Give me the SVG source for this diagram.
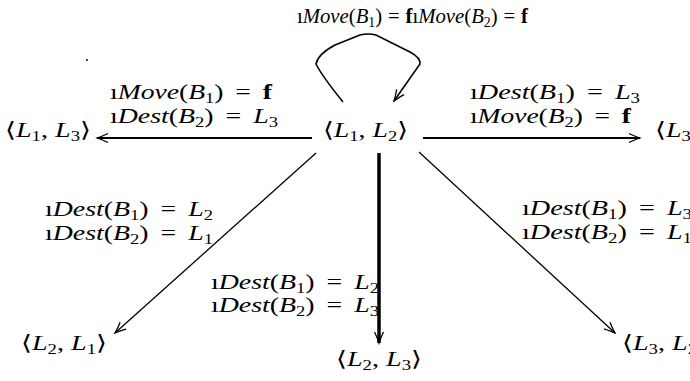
<svg xmlns="http://www.w3.org/2000/svg" width="690" height="381" viewBox="0 0 690 381">
<defs>
<style>
.t{font-family:"Liberation Serif","DejaVu Serif",serif;font-size:21px;fill:#000}
.i{font-style:italic}
.s{font-size:14px}
.b{font-weight:bold}
.e{fill:none;stroke:#000}
</style>
<marker id="ah" viewBox="-12 -6 14 12" refX="0" refY="0" markerWidth="14" markerHeight="12" markerUnits="userSpaceOnUse" orient="auto">
<path d="M-11,-4.5 Q-4,-1.2 0,0 Q-4,1.2 -11,4.5" fill="none" stroke="#000" stroke-width="1.3"/>
</marker>
</defs>
<rect width="690" height="381" fill="#fff"/>
<circle cx="87" cy="60" r="1" fill="#000"/>
<g id="edges">
<path class="e" d="M343,102 Q322,76 316,64 Q318,54 335,45 L360,35 Q368,33 376,35 L410,52 Q421,58 420,64 L394,101" stroke-width="1.6" marker-end="url(#ah)"/>
<path class="e" d="M312,138 L97,138" stroke-width="2" marker-end="url(#ah)"/>
<path class="e" d="M423,138 L640,138" stroke-width="2" marker-end="url(#ah)"/>
<path class="e" d="M379,153 L379,343" stroke-width="3.5" marker-end="url(#ah)"/>
<path class="e" d="M316,153 L115,333" stroke-width="1.3" marker-end="url(#ah)"/>
<path class="e" d="M419,152 L615,333" stroke-width="1.3" marker-end="url(#ah)"/>
</g>
<g id="edge-labels">
<text class="t" x="297" y="23" textLength="231" lengthAdjust="spacingAndGlyphs">ı<tspan class="i">Move</tspan>(<tspan class="i">B</tspan><tspan class="s" dy="4">1</tspan><tspan dy="-4">)</tspan><tspan dx="6">=</tspan><tspan dx="6" class="b">f</tspan>ı<tspan class="i">Move</tspan>(<tspan class="i">B</tspan><tspan class="s" dy="4">2</tspan><tspan dy="-4">)</tspan><tspan dx="6">=</tspan><tspan dx="6" class="b">f</tspan></text>
<text class="t" x="110" y="99" textLength="162" lengthAdjust="spacingAndGlyphs">ı<tspan class="i">Move</tspan>(<tspan class="i">B</tspan><tspan class="s" dy="4">1</tspan><tspan dy="-4">)</tspan><tspan dx="9">=</tspan><tspan dx="9" class="b">f</tspan></text>
<text class="t" x="110" y="123" textLength="168" lengthAdjust="spacingAndGlyphs">ı<tspan class="i">Dest</tspan>(<tspan class="i">B</tspan><tspan class="s" dy="4">2</tspan><tspan dy="-4">)</tspan><tspan dx="9">=</tspan><tspan dx="9" class="i">L</tspan><tspan class="s" dy="4">3</tspan></text>
<text class="t" x="470" y="99" textLength="170" lengthAdjust="spacingAndGlyphs">ı<tspan class="i">Dest</tspan>(<tspan class="i">B</tspan><tspan class="s" dy="4">1</tspan><tspan dy="-4">)</tspan><tspan dx="9">=</tspan><tspan dx="9" class="i">L</tspan><tspan class="s" dy="4">3</tspan></text>
<text class="t" x="470" y="123" textLength="161" lengthAdjust="spacingAndGlyphs">ı<tspan class="i">Move</tspan>(<tspan class="i">B</tspan><tspan class="s" dy="4">2</tspan><tspan dy="-4">)</tspan><tspan dx="9">=</tspan><tspan dx="9" class="b">f</tspan></text>
<text class="t" x="45" y="216" textLength="168" lengthAdjust="spacingAndGlyphs">ı<tspan class="i">Dest</tspan>(<tspan class="i">B</tspan><tspan class="s" dy="4">1</tspan><tspan dy="-4">)</tspan><tspan dx="9">=</tspan><tspan dx="9" class="i">L</tspan><tspan class="s" dy="4">2</tspan></text>
<text class="t" x="45" y="240" textLength="168" lengthAdjust="spacingAndGlyphs">ı<tspan class="i">Dest</tspan>(<tspan class="i">B</tspan><tspan class="s" dy="4">2</tspan><tspan dy="-4">)</tspan><tspan dx="9">=</tspan><tspan dx="9" class="i">L</tspan><tspan class="s" dy="4">1</tspan></text>
<text class="t" x="211" y="289" textLength="168" lengthAdjust="spacingAndGlyphs">ı<tspan class="i">Dest</tspan>(<tspan class="i">B</tspan><tspan class="s" dy="4">1</tspan><tspan dy="-4">)</tspan><tspan dx="9">=</tspan><tspan dx="9" class="i">L</tspan><tspan class="s" dy="4">2</tspan></text>
<text class="t" x="211" y="312" textLength="168" lengthAdjust="spacingAndGlyphs">ı<tspan class="i">Dest</tspan>(<tspan class="i">B</tspan><tspan class="s" dy="4">2</tspan><tspan dy="-4">)</tspan><tspan dx="9">=</tspan><tspan dx="9" class="i">L</tspan><tspan class="s" dy="4">3</tspan></text>
<text class="t" x="522" y="215" textLength="170" lengthAdjust="spacingAndGlyphs">ı<tspan class="i">Dest</tspan>(<tspan class="i">B</tspan><tspan class="s" dy="4">1</tspan><tspan dy="-4">)</tspan><tspan dx="9">=</tspan><tspan dx="9" class="i">L</tspan><tspan class="s" dy="4">3</tspan></text>
<text class="t" x="522" y="239" textLength="170" lengthAdjust="spacingAndGlyphs">ı<tspan class="i">Dest</tspan>(<tspan class="i">B</tspan><tspan class="s" dy="4">2</tspan><tspan dy="-4">)</tspan><tspan dx="9">=</tspan><tspan dx="9" class="i">L</tspan><tspan class="s" dy="4">1</tspan></text>
</g>
<g id="n-L1L2"><text class="t" x="323" y="137" textLength="85" lengthAdjust="spacingAndGlyphs">⟨<tspan class="i">L</tspan><tspan class="s" dy="4">1</tspan><tspan dy="-4">, </tspan><tspan class="i">L</tspan><tspan class="s" dy="4">2</tspan><tspan dy="-4">⟩</tspan></text></g>
<g id="n-L1L3"><text class="t" x="5" y="137" textLength="86" lengthAdjust="spacingAndGlyphs">⟨<tspan class="i">L</tspan><tspan class="s" dy="4">1</tspan><tspan dy="-4">, </tspan><tspan class="i">L</tspan><tspan class="s" dy="4">3</tspan><tspan dy="-4">⟩</tspan></text></g>
<g id="n-L3L1"><text class="t" x="655" y="137" textLength="86" lengthAdjust="spacingAndGlyphs">⟨<tspan class="i">L</tspan><tspan class="s" dy="4">3</tspan><tspan dy="-4">, </tspan><tspan class="i">L</tspan><tspan class="s" dy="4">1</tspan><tspan dy="-4">⟩</tspan></text></g>
<g id="n-L2L1"><text class="t" x="21" y="350" textLength="86" lengthAdjust="spacingAndGlyphs">⟨<tspan class="i">L</tspan><tspan class="s" dy="4">2</tspan><tspan dy="-4">, </tspan><tspan class="i">L</tspan><tspan class="s" dy="4">1</tspan><tspan dy="-4">⟩</tspan></text></g>
<g id="n-L2L3"><text class="t" x="336" y="366" textLength="86" lengthAdjust="spacingAndGlyphs">⟨<tspan class="i">L</tspan><tspan class="s" dy="4">2</tspan><tspan dy="-4">, </tspan><tspan class="i">L</tspan><tspan class="s" dy="4">3</tspan><tspan dy="-4">⟩</tspan></text></g>
<g id="n-L3L2"><text class="t" x="622" y="350" textLength="86" lengthAdjust="spacingAndGlyphs">⟨<tspan class="i">L</tspan><tspan class="s" dy="4">3</tspan><tspan dy="-4">, </tspan><tspan class="i">L</tspan><tspan class="s" dy="4">2</tspan><tspan dy="-4">⟩</tspan></text></g>
</svg>
